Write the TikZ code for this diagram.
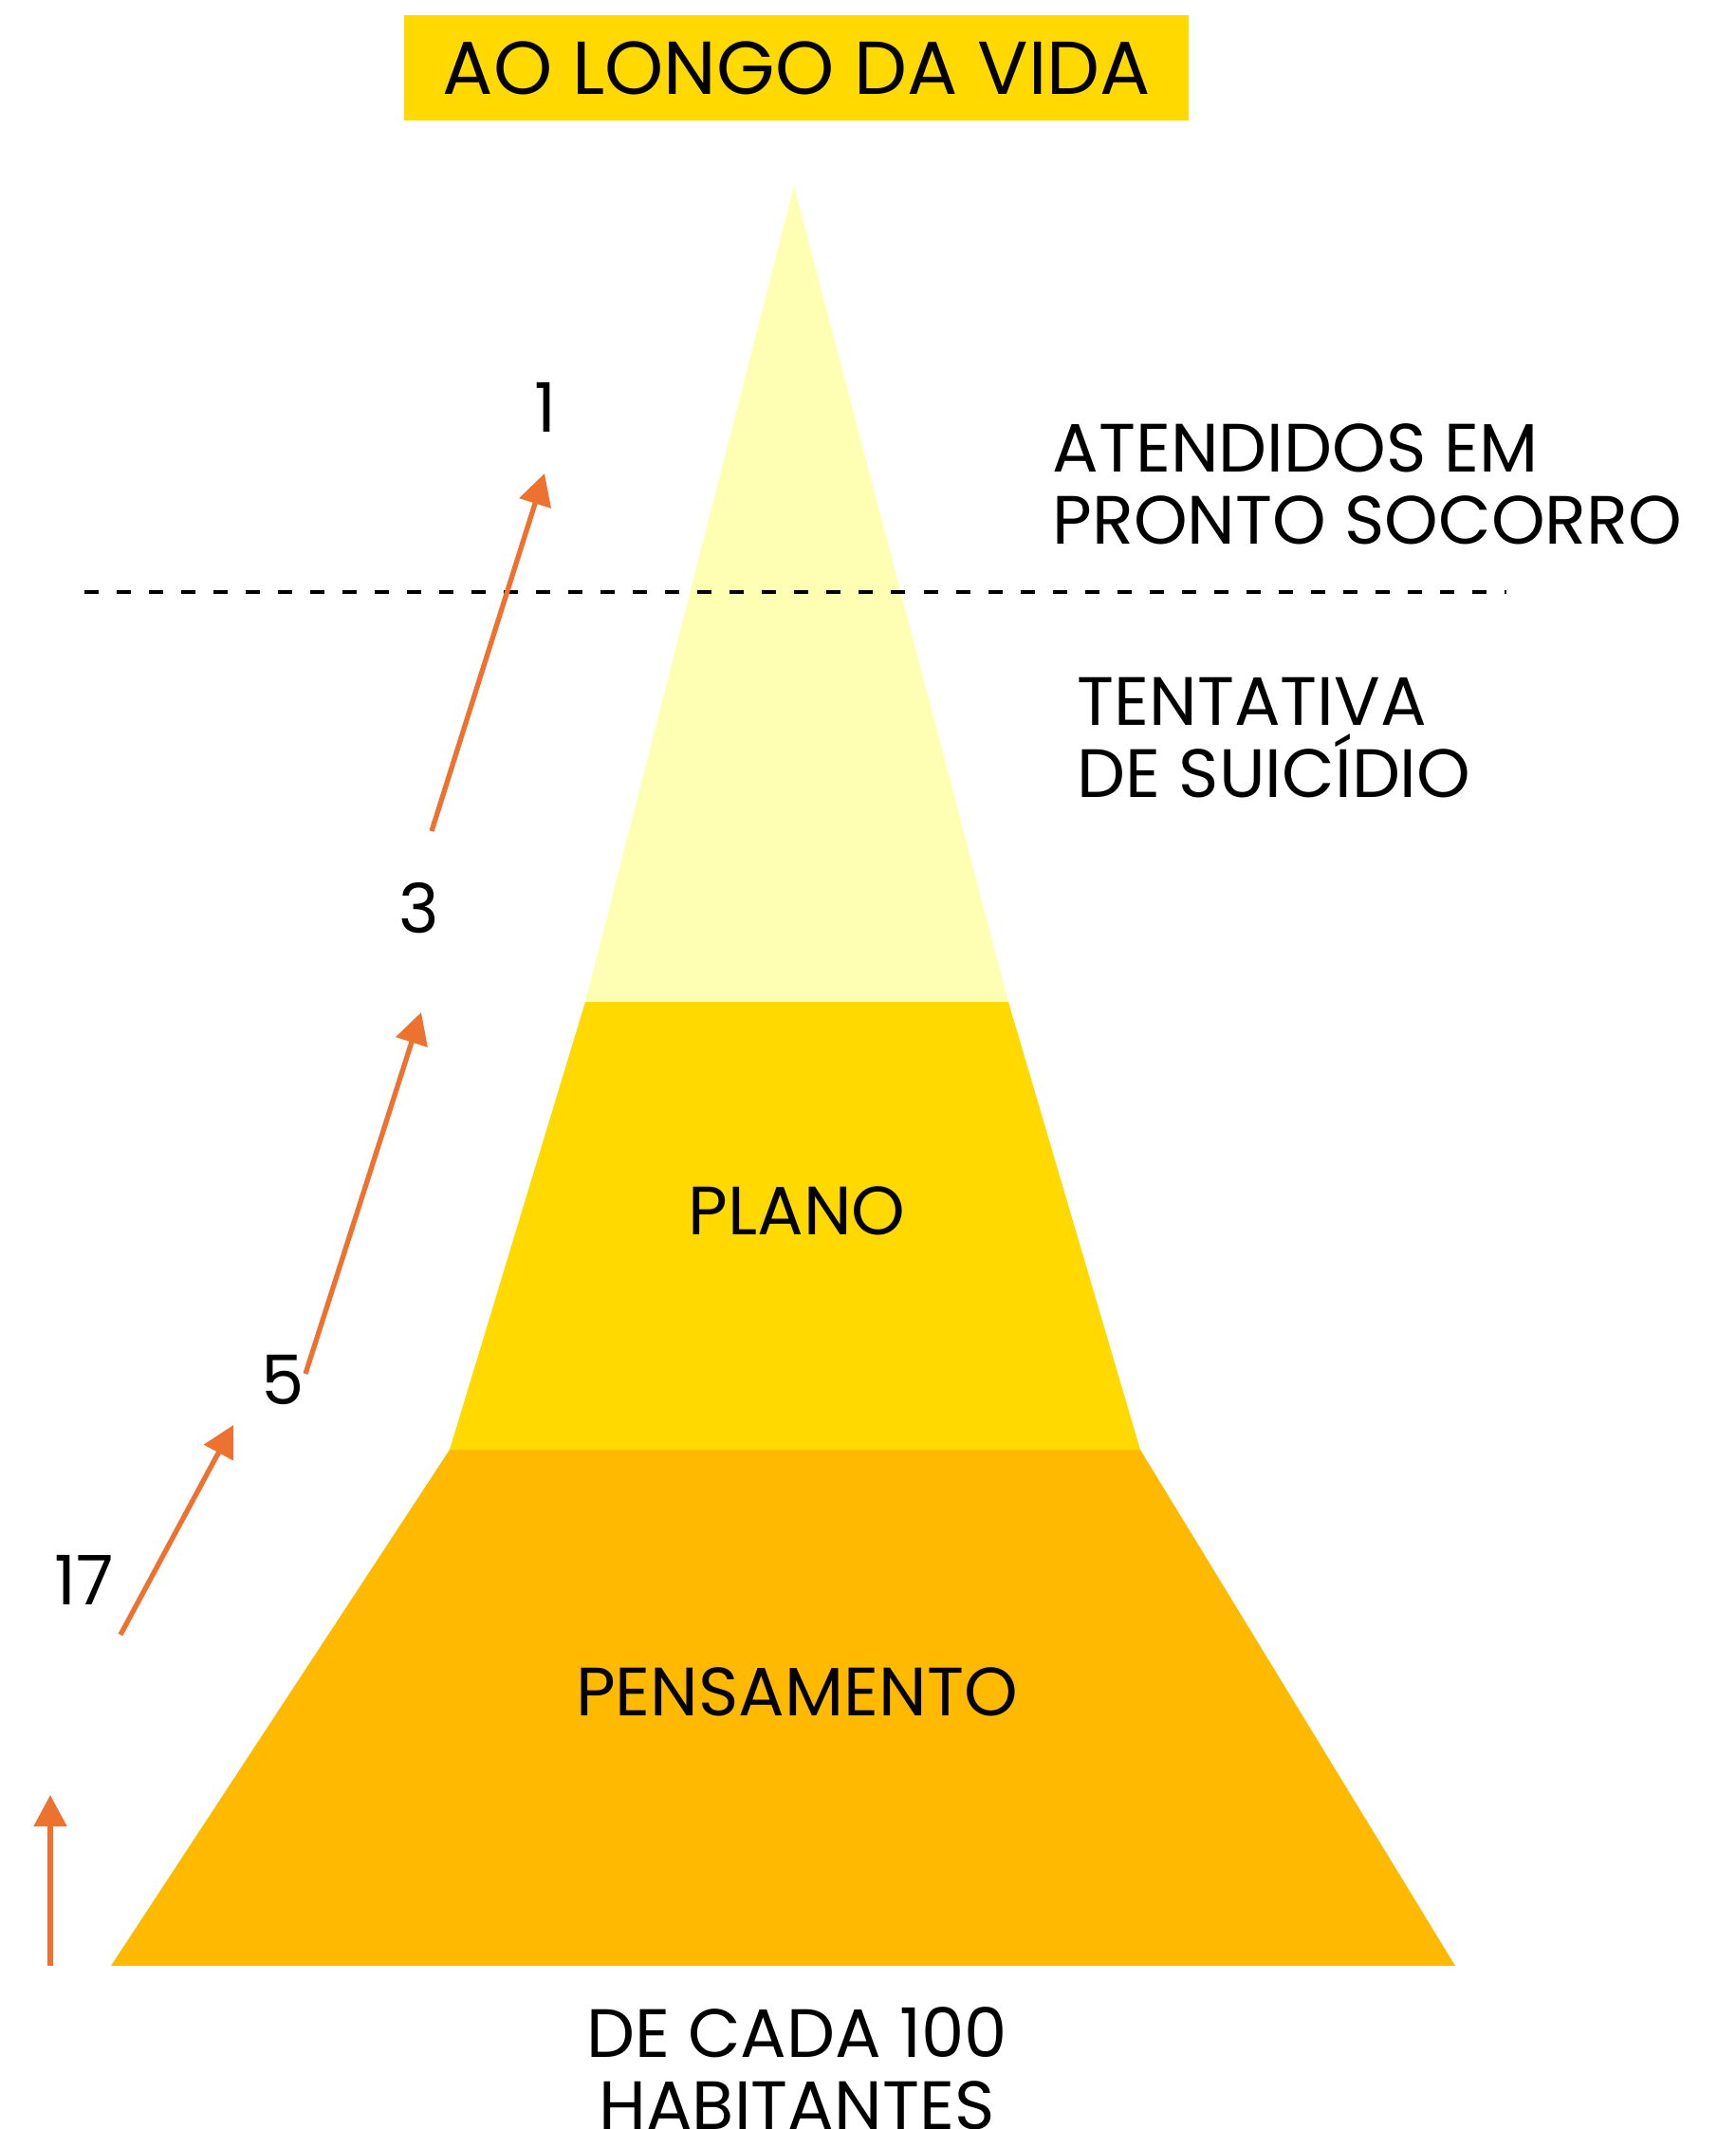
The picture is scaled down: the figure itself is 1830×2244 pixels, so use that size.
\documentclass[tikz,border=0pt]{standalone}
\usepackage{fontspec}
\setmainfont{Poppins}
\usetikzlibrary{arrows.meta}
\definecolor{topo}{HTML}{FFFFB3}
\definecolor{meio}{HTML}{FFD900}
\definecolor{base}{HTML}{FFBA00}
\definecolor{seta}{HTML}{ED7230}
\tikzset{
  rotulo/.style={font=\fontsize{20.5}{21.6}\selectfont, inner sep=0pt},
  subida/.style={seta, line width=1.5pt, -{Triangle[length=0.33cm, width=0.34cm]}}
}
\begin{document}
\begin{tikzpicture}[x=0.01cm, y=-0.01cm]
			\useasboundingbox (0,0) rectangle (1830,2244);
			% Faixa do titulo
			\fill[meio] (426,16) rectangle (1253,127);
			\node[rotulo, font=\fontsize{22.5}{24}\selectfont] (titulo) at (840,72) {AO LONGO DA VIDA};
			% Camadas da piramide
			\fill[base] (117,2072) -- (474,1528) -- (1202,1528) -- (1534,2072) -- cycle;
			\fill[meio] (474,1528) -- (617,1056) -- (1063,1056) -- (1202,1528) -- cycle;
			\fill[topo] (617,1056) -- (837,196) -- (1063,1056) -- cycle;
			% Linha tracejada
			\coordinate (tracoA) at (89,624);
			\coordinate (tracoB) at (1588,624);
			\draw[line width=1.1pt, dash pattern=on 0.15cm off 0.19cm] (tracoA) -- (tracoB);
			% Textos das camadas
			\node[rotulo] (plano) at (840,1276) {PLANO};
			\node[rotulo] (pensamento) at (840,1783) {PENSAMENTO};
			\node[rotulo, anchor=west, align=left] (socorro) at (1109,510) {ATENDIDOS EM\\PRONTO SOCORRO};
			\node[rotulo, anchor=west, align=left] (tentativa) at (1135,778) {TENTATIVA\\DE SUICÍDIO};
			\node[rotulo, align=center] (habitantes) at (840,2180) {DE CADA 100\\HABITANTES};
			% Numeros
			\node[rotulo] (n17) at (89,1665) {17};
			\node[rotulo] (n5) at (298,1454) {5};
			\node[rotulo] (n3) at (442,957) {3};
			\node[rotulo] (n1) at (575,429) {1};
			% Setas
			\coordinate (s0a) at (53,2072);
			\coordinate (s0b) at (53,1892);
			\coordinate (s1a) at (127,1723);
			\coordinate (s1b) at (246,1502);
			\coordinate (s2a) at (322,1448);
			\coordinate (s2b) at (444,1067);
			\coordinate (s3a) at (455,876);
			\coordinate (s3b) at (574,499);
			\draw[subida] (s0a) -- (s0b);
			\draw[subida] (s1a) -- (s1b);
			\draw[subida] (s2a) -- (s2b);
			\draw[subida] (s3a) -- (s3b);
\end{tikzpicture}
\end{document}
